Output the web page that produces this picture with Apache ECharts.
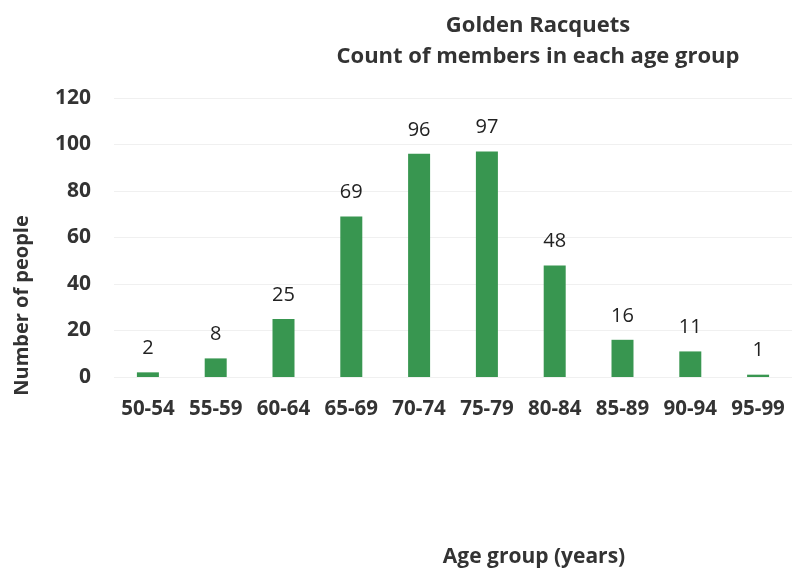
<!DOCTYPE html>
<html><head><meta charset="utf-8">
<script src="https://cdn.jsdelivr.net/npm/echarts@6/dist/echarts.min.js"></script>
<style>html,body{margin:0;padding:0;background:#fff;}#c{width:792px;height:575px;}</style>
</head><body><div id="c"></div>
<script>
var categories = ["50-54","55-59","60-64","65-69","70-74","75-79","80-84","85-89","90-94","95-99"];
var counts = [2, 8, 25, 69, 96, 97, 48, 16, 11, 1];
var yTicks = [0, 20, 40, 60, 80, 100, 120];
var titleLines = ["Golden Racquets", "Count of members in each age group"];
var xName = "Age group (years)";
var yName = "Number of people";

var FONT = "'Open Sans', Lato, sans-serif";
var chart = echarts.init(document.getElementById('c'));
chart.setOption({
  animation: false,
  textStyle: {fontFamily: FONT},
  title: {
    text: titleLines.join('\n'),
    left: 533, top: 5, textAlign: 'center',
    textStyle: {fontFamily: FONT, fontSize: 22, fontWeight: 'bold', color: '#333', lineHeight: 31}
  },
  grid: {left: 114, top: 98, width: 680, height: 279, containLabel: false},
  xAxis: {
    type: 'category', data: categories,
    name: xName, nameLocation: 'middle', nameGap: 170,
    nameTextStyle: {fontFamily: FONT, fontSize: 21, fontWeight: 'bold', color: '#333', padding: [0,0,0,162]},
    axisLine: {show: false}, axisTick: {show: false},
    axisLabel: {interval: 0, hideOverlap: false, fontFamily: FONT, fontSize: 20.5, fontWeight: 'bold', color: '#333', margin: 22}
  },
  yAxis: {
    type: 'value', min: yTicks[0], max: yTicks[yTicks.length-1], interval: 20,
    name: yName, nameLocation: 'middle', nameGap: 82, nameRotate: 90,
    nameTextStyle: {fontFamily: FONT, fontSize: 20, fontWeight: 'bold', color: '#333', padding: [0,136,0,0]},
    axisLine: {show: false}, axisTick: {show: false},
    axisLabel: {fontFamily: FONT, fontSize: 21, fontWeight: 'bold', color: '#333', margin: 23},
    splitLine: {lineStyle: {color: '#f0f0f0', width: 1}}
  },
  series: [{
    type: 'bar', data: counts, barWidth: 22,
    itemStyle: {color: '#389650'},
    label: {show: true, position: 'top', distance: 14, fontFamily: FONT, fontSize: 20, color: '#222'}
  }]
});
</script></body></html>
